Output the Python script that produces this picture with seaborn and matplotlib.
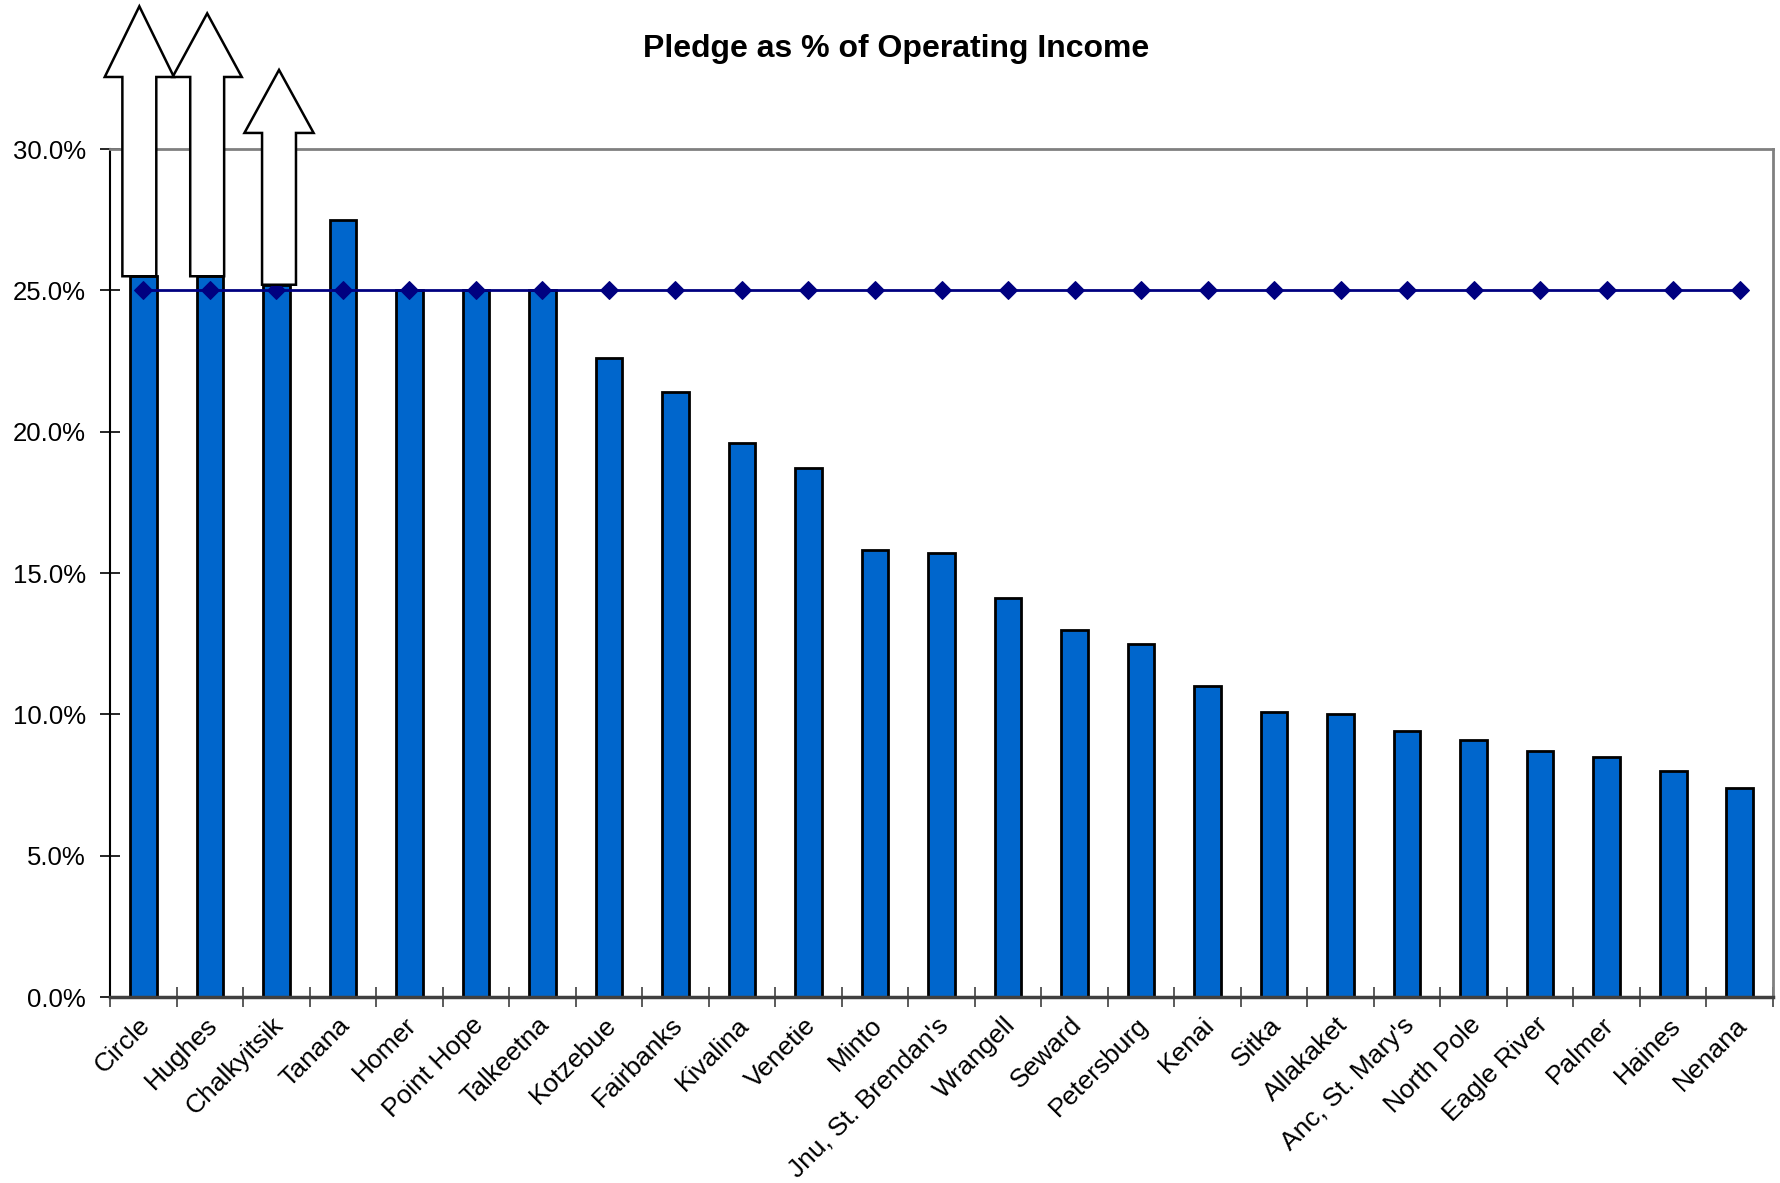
import matplotlib
matplotlib.use("Agg")
import matplotlib.pyplot as plt
import matplotlib.transforms as mtransforms
from matplotlib.patches import FancyArrow
from matplotlib.ticker import PercentFormatter, FixedLocator
import seaborn as sns
import pandas as pd

# Pledge as % of operating income, by parish
parishes = ["Circle", "Hughes", "Chalkyitsik", "Tanana", "Homer", "Point Hope",
            "Talkeetna", "Kotzebue", "Fairbanks", "Kivalina", "Venetie", "Minto",
            "Jnu, St. Brendan's", "Wrangell", "Seward", "Petersburg", "Kenai",
            "Sitka", "Allakaket", "Anc, St. Mary's", "North Pole", "Eagle River",
            "Palmer", "Haines", "Nenana"]
pledge_pct = [25.5, 25.5, 25.2, 27.5, 25.0, 25.0, 25.0, 22.6, 21.4, 19.6, 18.7,
              15.8, 15.7, 14.1, 13.0, 12.5, 11.0, 10.1, 10.0, 9.4, 9.1, 8.7,
              8.5, 8.0, 7.4]
target_pct = [25.0] * len(parishes)

# off-scale bars: index, arrow tip value, shoulder value (arrows drawn above the bar)
offscale_idx = [0, 1, 2]
offscale_tip = [35.05, 34.8, 32.8]
offscale_shoulder = [32.55, 32.55, 30.57]
offscale_shift = [-0.06, -0.04, 0.04]

sns.set_style("white")
plt.rcParams["font.family"] = ["Liberation Sans", "DejaVu Sans"]
plt.rcParams["text.color"] = "black"
plt.rcParams["xtick.color"] = "black"
plt.rcParams["ytick.color"] = "black"
plt.rcParams["xtick.labelcolor"] = "black"
plt.rcParams["ytick.labelcolor"] = "black"

df = pd.DataFrame({"parish": parishes, "pledge": pledge_pct})

fig = plt.figure(figsize=(17.81, 11.83), dpi=100)
ax = fig.add_axes([0.0618, 0.1572, 0.9337, 0.7168])

sns.barplot(data=df, x="parish", y="pledge", ax=ax, color="#0066CC",
            saturation=1, width=0.4, edgecolor="black", linewidth=2.0)

sns.lineplot(x=list(range(len(parishes))), y=target_pct, ax=ax, color="#000080",
             linewidth=2.0, marker="D", markersize=9.5, markeredgecolor="#000080")

ax.set_xlim(-0.5, len(parishes) - 0.5)
ax.set_ylim(0, 30)
ax.set_yticks([0, 5, 10, 15, 20, 25, 30])
ax.yaxis.set_major_formatter(PercentFormatter(100, decimals=1))
ax.set_xlabel("")
ax.set_ylabel("")

# arrows for values off the scale
for i, tip, sho, sh in zip(offscale_idx, offscale_tip, offscale_shoulder, offscale_shift):
    base = pledge_pct[i]
    arr = FancyArrow(i + sh, base, 0, tip - base, width=0.51, head_width=1.04,
                     head_length=tip - sho, length_includes_head=True,
                     facecolor="white", edgecolor="black", linewidth=1.8,
                     clip_on=False, zorder=5)
    ax.add_patch(arr)

# tick styling (Excel look)
ax.tick_params(axis="y", which="major", direction="inout", length=15,
               width=1.2, color="black", labelsize=18.5, pad=10, left=True)
ax.tick_params(axis="x", which="major", length=0, labelsize=19, pad=10)
ax.xaxis.set_minor_locator(FixedLocator([i - 0.5 for i in range(len(parishes) + 1)]))
ax.tick_params(axis="x", which="minor", direction="inout", length=15,
               width=1.2, color="#404040", bottom=True)
shift = mtransforms.ScaledTranslation(-0.05, -0.02, fig.dpi_scale_trans)
for lab in ax.get_xticklabels():
    lab.set_rotation(45)
    lab.set_ha("right")
    lab.set_va("top")
    lab.set_rotation_mode("anchor")
    lab.set_transform(lab.get_transform() + shift)

for side in ["top", "right"]:
    ax.spines[side].set_color("#808080")
    ax.spines[side].set_linewidth(2)
ax.spines["left"].set_color("black")
ax.spines["left"].set_linewidth(1.5)
ax.spines["bottom"].set_color("#404040")
ax.spines["bottom"].set_linewidth(2.5)

fig.text(0.503, 0.959, "Pledge as % of Operating Income", ha="center",
         va="center", fontsize=23, fontweight="bold")

fig.savefig("out.png", dpi=100, facecolor="white")
